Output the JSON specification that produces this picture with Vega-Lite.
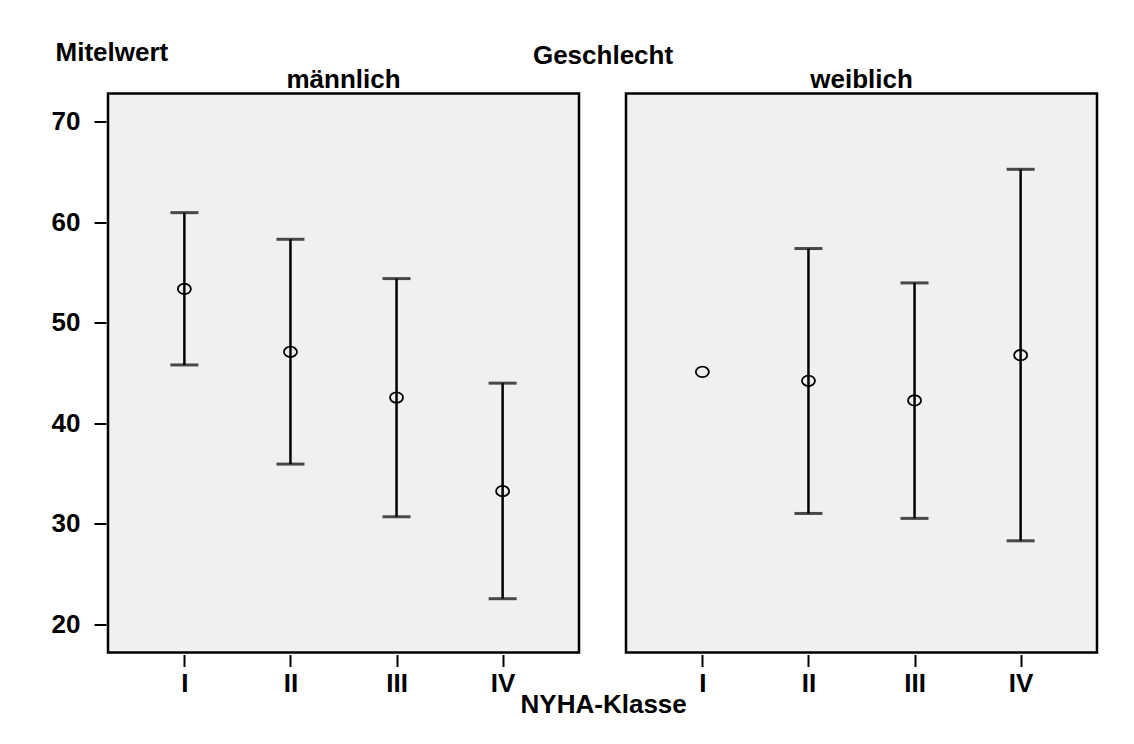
{
  "$schema": "https://vega.github.io/schema/vega-lite/v6.json",
  "padding": {"left": 51, "top": 39.5, "right": 5, "bottom": 5},
  "background": "white",
  "title": {"text": "NYHA-Klasse", "orient": "bottom", "anchor": "middle", "frame": "bounds", "font": "Liberation Sans", "fontSize": 26, "fontWeight": "bold", "color": "black", "offset": -5, "dx": 29},
  "data": {"values": [
    {"sex": "männlich", "nyha": "I", "mean": 53.36, "lo": 45.8, "hi": 60.95},
    {"sex": "männlich", "nyha": "II", "mean": 47.1, "lo": 35.94, "hi": 58.3},
    {"sex": "männlich", "nyha": "III", "mean": 42.56, "lo": 30.7, "hi": 54.39},
    {"sex": "männlich", "nyha": "IV", "mean": 33.25, "lo": 22.55, "hi": 43.99},
    {"sex": "weiblich", "nyha": "I", "mean": 45.11, "lo": null, "hi": null},
    {"sex": "weiblich", "nyha": "II", "mean": 44.22, "lo": 31.03, "hi": 57.38},
    {"sex": "weiblich", "nyha": "III", "mean": 42.27, "lo": 30.54, "hi": 53.96},
    {"sex": "weiblich", "nyha": "IV", "mean": 46.77, "lo": 28.31, "hi": 65.26}
  ]},
  "spacing": 43,
  "facet": {
    "column": {
      "field": "sex", "type": "nominal", "sort": ["männlich", "weiblich"],
      "header": {
        "title": "Geschlecht",
        "titleFont": "Liberation Sans", "titleFontSize": 26, "titleFontWeight": "bold", "titleColor": "black",
        "titlePadding": -12,
        "labelFont": "Liberation Sans", "labelFontSize": 26, "labelFontWeight": "bold", "labelColor": "black",
        "labelPadding": -1
      }
    }
  },
  "spec": {
    "width": 471,
    "height": 559,
    "encoding": {
      "x": {
        "field": "nyha", "type": "ordinal", "sort": ["I", "II", "III", "IV"],
        "scale": {"type": "point", "padding": 0.72},
        "axis": {"title": null, "labelAngle": 0, "domain": false, "tickSize": 12, "tickWidth": 2, "tickColor": "black", "labelPadding": 4,
                 "labelFont": "Liberation Sans", "labelFontSize": 26, "labelFontWeight": "bold", "labelColor": "black"}
      }
    },
    "layer": [
      {
        "mark": {"type": "rule", "color": "black", "strokeWidth": 2.5},
        "encoding": {
          "y": {"field": "lo", "type": "quantitative",
                "scale": {"domain": [17.2, 72.8], "nice": false, "zero": false},
                "axis": {"values": [20, 30, 40, 50, 60, 70], "grid": false, "domain": false, "tickSize": 12, "tickWidth": 2, "tickColor": "black", "labelPadding": 14,
                         "labelFont": "Liberation Sans", "labelFontSize": 26, "labelFontWeight": "bold", "labelColor": "black",
                         "title": "Mitelwert", "titleAngle": 0, "titleAlign": "left", "titleBaseline": "alphabetic", "titleX": -51, "titleY": -33,
                         "titleFont": "Liberation Sans", "titleFontSize": 26, "titleFontWeight": "bold", "titleColor": "black"}},
          "y2": {"field": "hi"}
        }
      },
      {
        "mark": {"type": "tick", "color": "black", "size": 28, "thickness": 3, "orient": "horizontal"},
        "encoding": {"y": {"field": "lo", "type": "quantitative"}}
      },
      {
        "mark": {"type": "tick", "color": "black", "size": 28, "thickness": 3, "orient": "horizontal"},
        "encoding": {"y": {"field": "hi", "type": "quantitative"}}
      },
      {
        "mark": {"type": "point", "shape": "M-1,0A1,0.8 0 1,1 1,0A1,0.8 0 1,1 -1,0Z", "size": 170, "filled": false, "stroke": "black", "strokeWidth": 1.8, "opacity": 1},
        "encoding": {"y": {"field": "mean", "type": "quantitative"}}
      }
    ]
  },
  "config": {
    "view": {"fill": "#f0f0f0", "stroke": "black", "strokeWidth": 2.5},
    "axis": {"labelFlush": false}
  }
}
